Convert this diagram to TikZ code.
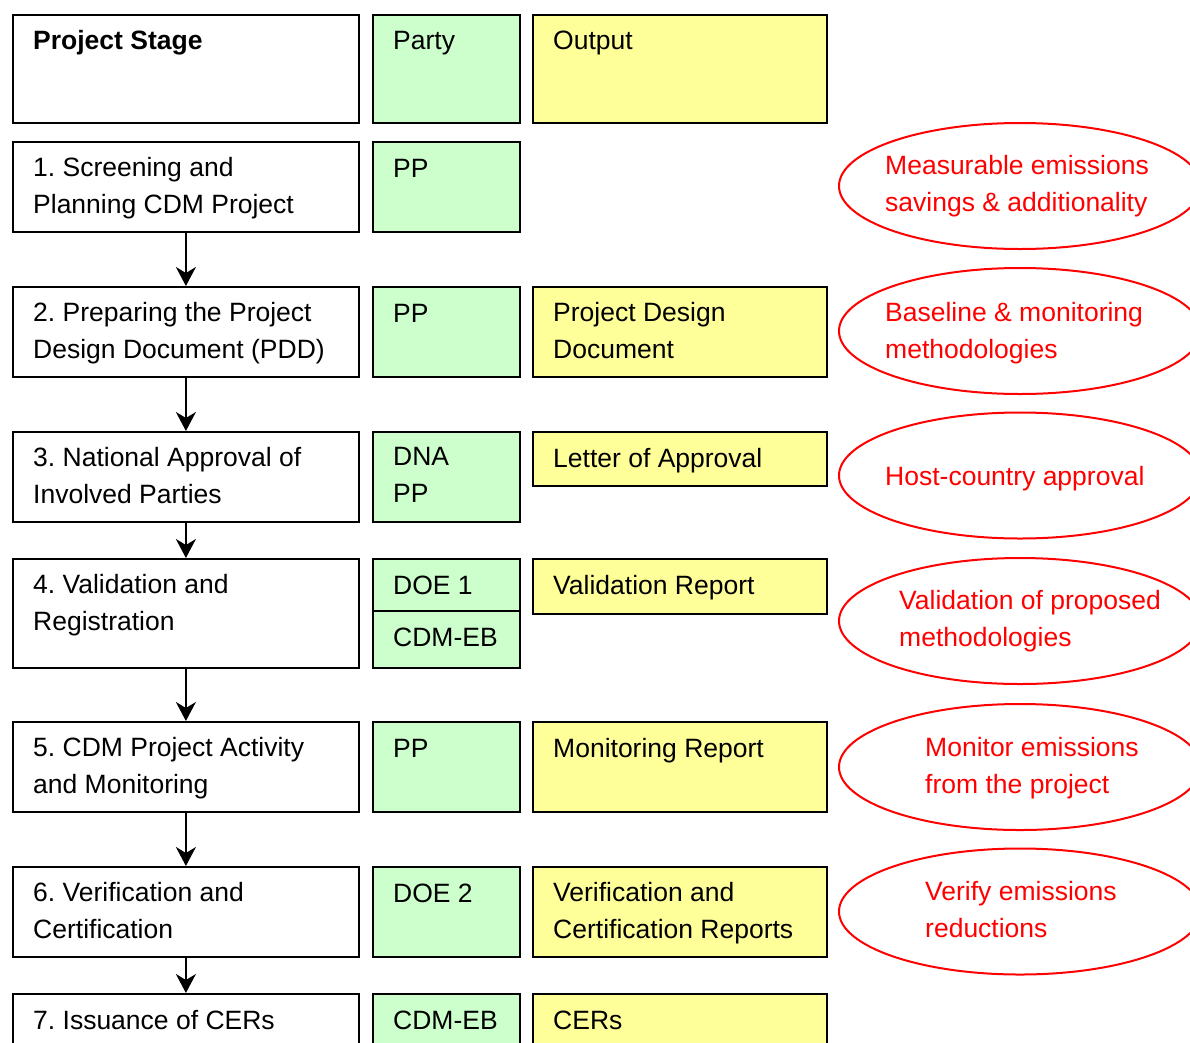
\documentclass[tikz,border=0pt]{standalone}
\usepackage{fontspec}
\setmainfont{Liberation Sans}
\usetikzlibrary{arrows.meta,shapes.geometric}
\definecolor{partyfill}{HTML}{CCFFCC}
\definecolor{outfill}{HTML}{FFFF99}
\definecolor{notered}{HTML}{FF0000}
\frenchspacing

\tikzset{
  cell/.style={draw=black, line width=1.8pt, rectangle, inner sep=0pt, anchor=north west},
  stagecell/.style={cell, fill=white, minimum width=346pt},
  partycell/.style={cell, fill=partyfill, minimum width=147pt},
  outcell/.style={cell, fill=outfill, minimum width=294pt},
  lbl/.style={anchor=north west, inner sep=0pt, align=left,
    font=\fontsize{26.5}{37}\selectfont, execute at begin node={\rule{0pt}{20pt}}},
  note/.style={draw=notered, line width=2pt, ellipse, minimum width=362pt,
    minimum height=126pt, inner sep=0pt},
  notetxt/.style={lbl, text=notered},
  flow/.style={-{Stealth[length=19pt,width=20pt,inset=6pt]}, line width=2pt},
}

\begin{document}
\begin{tikzpicture}[x=1pt, y=-1pt]
  \path[use as bounding box] (0,0) rectangle (1190,1042);
  \clip (0,0) rectangle (1190,1042);

  % header row
  \node[stagecell, minimum height=108pt] (s0) at (12,14) {};
  \node[partycell, minimum height=108pt] (p0) at (372,14) {};
  \node[outcell,   minimum height=108pt] (o0) at (532,14) {};
  \node[lbl] at ([shift={(21pt,-15pt)}]s0.north west) {\textbf{Project Stage}};
  \node[lbl] at ([shift={(21pt,-15pt)}]p0.north west) {Party};
  \node[lbl] at ([shift={(21pt,-15pt)}]o0.north west) {Output};

  % stage 1
  \node[stagecell, minimum height=90pt] (s1) at (12,141) {};
  \node[partycell, minimum height=90pt] (p1) at (372,141) {};
  \node[lbl] at ([shift={(21pt,-16pt)}]s1.north west) {1. Screening and\\Planning CDM Project};
  \node[lbl] at ([shift={(21pt,-16pt)}]p1.north west) {PP};

  % stage 2
  \node[stagecell, minimum height=90pt] (s2) at (12,286) {};
  \node[partycell, minimum height=90pt] (p2) at (372,286) {};
  \node[outcell,   minimum height=90pt] (o2) at (532,286) {};
  \node[lbl] at ([shift={(21pt,-16pt)}]s2.north west) {2. Preparing the Project\\Design Document (PDD)};
  \node[lbl] at ([shift={(21pt,-16pt)}]p2.north west) {PP};
  \node[lbl] at ([shift={(21pt,-16pt)}]o2.north west) {Project Design\\Document};

  % stage 3
  \node[stagecell, minimum height=90pt] (s3) at (12,431) {};
  \node[partycell, minimum height=90pt] (p3) at (372,431) {};
  \node[outcell,   minimum height=54pt] (o3) at (532,431) {};
  \node[lbl] at ([shift={(21pt,-16pt)}]s3.north west) {3. National Approval of\\Involved Parties};
  \node[lbl] at ([shift={(21pt,-16pt)}]p3.north west) {DNA\\PP};
  \node[lbl] at ([shift={(21pt,-16pt)}]o3.north west) {Letter of Approval};

  % stage 4
  \node[stagecell, minimum height=109pt] (s4) at (12,558) {};
  \node[partycell, minimum height=52pt] (p4a) at (372,558) {};
  \node[partycell, minimum height=57pt] (p4b) at (372,610) {};
  \node[outcell,   minimum height=55pt] (o4) at (532,558) {};
  \node[lbl] at ([shift={(21pt,-16pt)}]s4.north west) {4. Validation and\\Registration};
  \node[lbl] at ([shift={(21pt,-16pt)}]p4a.north west) {DOE 1};
  \node[lbl] at ([shift={(21pt,-16pt)}]p4b.north west) {CDM-EB};
  \node[lbl] at ([shift={(21pt,-16pt)}]o4.north west) {Validation Report};

  % stage 5
  \node[stagecell, minimum height=90pt] (s5) at (12,721) {};
  \node[partycell, minimum height=90pt] (p5) at (372,721) {};
  \node[outcell,   minimum height=90pt] (o5) at (532,721) {};
  \node[lbl] at ([shift={(21pt,-16pt)}]s5.north west) {5. CDM Project Activity\\and Monitoring};
  \node[lbl] at ([shift={(21pt,-16pt)}]p5.north west) {PP};
  \node[lbl] at ([shift={(21pt,-16pt)}]o5.north west) {Monitoring Report};

  % stage 6
  \node[stagecell, minimum height=90pt] (s6) at (12,866) {};
  \node[partycell, minimum height=90pt] (p6) at (372,866) {};
  \node[outcell,   minimum height=90pt] (o6) at (532,866) {};
  \node[lbl] at ([shift={(21pt,-16pt)}]s6.north west) {6. Verification and\\Certification};
  \node[lbl] at ([shift={(21pt,-16pt)}]p6.north west) {DOE 2};
  \node[lbl] at ([shift={(21pt,-16pt)}]o6.north west) {Verification and\\Certification Reports};

  % stage 7
  \node[stagecell, minimum height=90pt] (s7) at (12,993) {};
  \node[partycell, minimum height=90pt] (p7) at (372,993) {};
  \node[outcell,   minimum height=90pt] (o7) at (532,993) {};
  \node[lbl] at ([shift={(21pt,-16pt)}]s7.north west) {7. Issuance of CERs};
  \node[lbl] at ([shift={(21pt,-16pt)}]p7.north west) {CDM-EB};
  \node[lbl] at ([shift={(21pt,-16pt)}]o7.north west) {CERs};

  % flow between stages
  \draw[flow] (s1.south) -- (s2.north);
  \draw[flow] (s2.south) -- (s3.north);
  \draw[flow] (s3.south) -- (s4.north);
  \draw[flow] (s4.south) -- (s5.north);
  \draw[flow] (s5.south) -- (s6.north);
  \draw[flow] (s6.south) -- (s7.north);

  % requirement notes
  \node[note] (n1) at (1020,186) {};
  \node[note] (n2) at (1020,331) {};
  \node[note] (n3) at (1020,475.5) {};
  \node[note] (n4) at (1020,621) {};
  \node[note] (n5) at (1020,767) {};
  \node[note] (n6) at (1020,911.5) {};
  \node[notetxt] at (885,155) {Measurable emissions\\savings \& additionality};
  \node[notetxt] at (885,302) {Baseline \& monitoring\\methodologies};
  \node[notetxt] at (885,465) {Host-country approval};
  \node[notetxt] at (899,590) {Validation of proposed\\methodologies};
  \node[notetxt] at (925,737) {Monitor emissions\\from the project};
  \node[notetxt] at (925,881) {Verify emissions\\reductions};
\end{tikzpicture}
\end{document}
